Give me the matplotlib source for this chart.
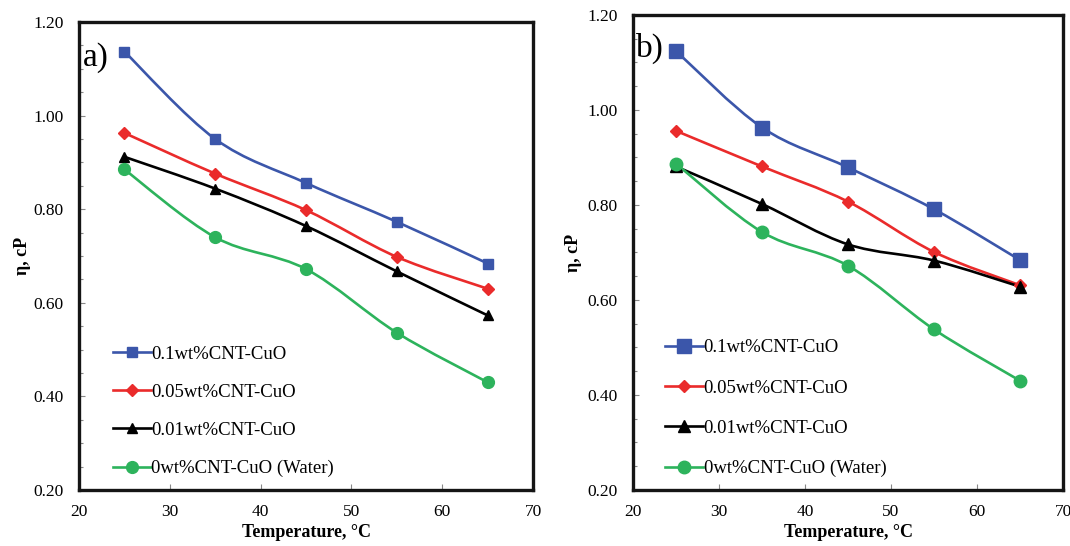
import matplotlib
matplotlib.use("Agg")
import matplotlib.pyplot as plt
import numpy as np
from matplotlib.path import Path
from matplotlib.patches import PathPatch
from matplotlib.lines import Line2D
from matplotlib.ticker import MultipleLocator, FormatStrFormatter

plt.rcParams['font.family'] = ['Liberation Serif', 'DejaVu Serif']

temperature = [25, 35, 45, 55, 65]
series_labels = ["0.1wt%CNT-CuO", "0.05wt%CNT-CuO", "0.01wt%CNT-CuO", "0wt%CNT-CuO (Water)"]

# panel a)
a_01 = [1.137, 0.950, 0.856, 0.773, 0.684]
a_005 = [0.963, 0.876, 0.798, 0.698, 0.630]
a_001 = [0.912, 0.844, 0.764, 0.667, 0.573]
a_water = [0.885, 0.740, 0.672, 0.536, 0.430]

# panel b)
b_01 = [1.124, 0.963, 0.879, 0.791, 0.684]
b_005 = [0.956, 0.881, 0.807, 0.701, 0.631]
b_001 = [0.881, 0.802, 0.717, 0.683, 0.628]
b_water = [0.887, 0.743, 0.672, 0.538, 0.430]

colors = ["#3B56AA", "#EA2B2B", "#000000", "#2DB35C"]
markers = ["s", "D", "^", "o"]


def smooth_path(x, y):
    pts = np.column_stack([x, y]).astype(float)
    n = len(pts)
    verts = [pts[0]]
    codes = [Path.MOVETO]
    for i in range(n - 1):
        p0 = pts[i - 1] if i > 0 else pts[i]
        p1 = pts[i]
        p2 = pts[i + 1]
        p3 = pts[i + 2] if i + 2 < n else pts[i + 1]
        c1 = p1 + (p2 - p0) / 6.0
        c2 = p2 - (p3 - p1) / 6.0
        verts += [c1, c2, p2]
        codes += [Path.CURVE4] * 3
    return Path(verts, codes)


fig = plt.figure(figsize=(10.70, 5.46), dpi=100)

panels = [
    dict(rect=[0.0738, 0.1026, 0.4245, 0.857], data=[a_01, a_005, a_001, a_water], tag="a)",
         sizes=[6.5, 6.5, 7.5, 8.5], tagy=0.925, ylab=-0.105, legy=0.027, spacing=1.12),
    dict(rect=[0.5916, 0.1026, 0.4019, 0.870], data=[b_01, b_005, b_001, b_water], tag="b)",
         sizes=[9.5, 6.5, 8.0, 9.0], tagy=0.93, ylab=-0.119, legy=0.027, spacing=1.23),
]

for p in panels:
    ax = fig.add_axes(p["rect"])
    handles = []
    for vals, c, m, lab, ms in zip(p["data"], colors, markers, series_labels, p["sizes"]):
        ax.add_patch(PathPatch(smooth_path(temperature, vals), facecolor="none",
                               edgecolor=c, lw=1.9, zorder=2))
        ax.plot(temperature, vals, linestyle="none", marker=m, color=c, markersize=ms, zorder=3)
        handles.append(Line2D([], [], color=c, lw=1.9, marker=m, markersize=ms))
    ax.set_xlim(20, 70)
    ax.set_ylim(0.2, 1.2)
    ax.xaxis.set_major_locator(MultipleLocator(10))
    ax.yaxis.set_major_locator(MultipleLocator(0.2))
    ax.yaxis.set_minor_locator(MultipleLocator(0.05))
    ax.yaxis.set_major_formatter(FormatStrFormatter("%.2f"))
    ax.tick_params(direction="in", length=4, width=0.8, color="#888888", labelsize=12.5)
    ax.tick_params(axis="y", pad=11)
    ax.tick_params(axis="x", pad=10)
    ax.tick_params(which="minor", direction="in", length=3, width=0.8, color="#888888")
    ax.tick_params(axis="y", which="both", left=True, right=False)
    ax.tick_params(axis="x", which="both", top=False)
    for s in ax.spines.values():
        s.set_linewidth(2.4)
        s.set_color("#151515")
    ax.set_xlabel("Temperature, \u00b0C", fontsize=13, fontweight="bold", labelpad=3)
    ax.set_ylabel("\u03b7, cP", fontsize=13, fontweight="bold")
    ax.yaxis.set_label_coords(p["ylab"], 0.5)
    ax.text(0.008, p["tagy"], p["tag"], transform=ax.transAxes, fontsize=24, va="center", ha="left")
    ax.legend(handles, series_labels, loc="lower left", bbox_to_anchor=(0.075, p["legy"]),
              frameon=False, fontsize=13.5, handlelength=2.0, handletextpad=0.05,
              labelspacing=p["spacing"], borderpad=0, borderaxespad=0)

fig.savefig("out.png", dpi=100)
